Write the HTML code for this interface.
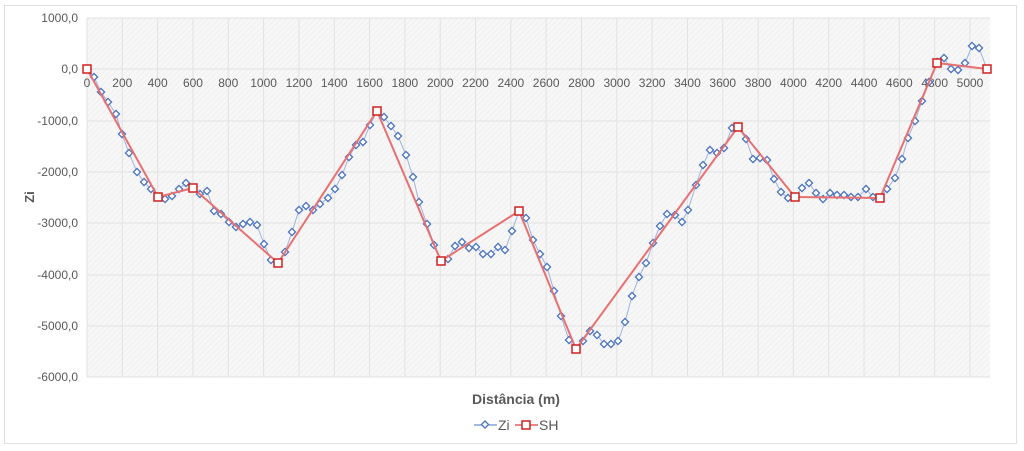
<!DOCTYPE html>
<html><head><meta charset="utf-8"><style>
html,body{margin:0;padding:0;background:#fff;}
svg{display:block;font-family:"Liberation Sans",sans-serif;}
</style></head><body>
<svg width="1024" height="451" viewBox="0 0 1024 451">
<defs>
<pattern id="h" width="4" height="4" patternUnits="userSpaceOnUse" patternTransform="rotate(45)">
<rect width="4" height="4" fill="#f7f7f7"/><line x1="0" y1="0" x2="0" y2="4" stroke="#ececec" stroke-width="1.2"/>
</pattern>
</defs>
<rect x="4.5" y="5.5" width="1012" height="438" fill="#fff" stroke="#e0e0e0"/>
<rect x="87" y="18" width="903" height="359" fill="url(#h)"/>
<g stroke="#e2e2e2" stroke-width="1">
<line x1="87" y1="18" x2="990" y2="18"/><line x1="87" y1="69" x2="990" y2="69"/><line x1="87" y1="121" x2="990" y2="121"/><line x1="87" y1="172" x2="990" y2="172"/><line x1="87" y1="223" x2="990" y2="223"/><line x1="87" y1="275" x2="990" y2="275"/><line x1="87" y1="326" x2="990" y2="326"/><line x1="87" y1="377" x2="990" y2="377"/>
</g>
<g id="vg" stroke="#e2e2e2"></g>
<g font-size="12" fill="#595959" text-anchor="end">
<text x="78" y="22">1000,0</text><text x="78" y="73">0,0</text><text x="78" y="125">-1000,0</text><text x="78" y="176">-2000,0</text><text x="78" y="227">-3000,0</text><text x="78" y="279">-4000,0</text><text x="78" y="330">-5000,0</text><text x="78" y="381">-6000,0</text>
</g>
<g id="xl" font-size="12" fill="#595959" text-anchor="middle"></g>
<text transform="translate(34,197) rotate(-90)" font-size="13" font-weight="bold" fill="#595959" text-anchor="middle">Zi</text>
<text x="516" y="404" font-size="14" font-weight="bold" fill="#595959" text-anchor="middle">Distância (m)</text>
<g>
<line x1="474" y1="425" x2="497" y2="425" stroke="#4a73c0" stroke-width="1"/>
<rect x="482.5" y="422" width="5" height="5" transform="rotate(45 485 424.5)" fill="#fff" stroke="#4a73c0" stroke-width="1.3"/>
<text x="498" y="430" font-size="14" fill="#595959">Zi</text>
<line x1="515" y1="425" x2="538" y2="425" stroke="#e06060" stroke-width="1.5"/>
<rect x="522" y="421" width="8" height="8" fill="#fff" stroke="#d02020" stroke-width="1.5"/>
<text x="539" y="430" font-size="14" fill="#595959">SH</text>
</g>
<g id="zi"></g>
<g id="sh"></g>
</svg>
<script>
var ns="http://www.w3.org/2000/svg";
function el(t,a,p){var e=document.createElementNS(ns,t);for(var k in a)e.setAttribute(k,a[k]);p.appendChild(e);return e;}
var vg=document.getElementById('vg'),xl=document.getElementById('xl');
for(var i=0;i<=25;i++){var x=87+i*35.32;el('line',{x1:x,y1:18,x2:x,y2:377},vg);var t=el('text',{x:x,y:87},xl);t.textContent=(i*200)+'';}
var zi=[[87,69],[94,77],[101,92],[108,102],[116,114],[122,134],[129,153],[137,172],[144,182],[151,189],[158,197],[165,199],[172,196],[179,189],[186,183],[193,188],[200,194],[207,191],[214,211],[221,214],[229,222],[236,227],[243,224],[250,222],[257,225],[264,244],[271,260],[278,263],[285,252],[292,232],[299,210],[306,206],[313,210],[320,204],[328,198],[335,189],[342,175],[349,157],[356,145],[363,142],[370,125],[377,111],[384,117],[391,126],[398,136],[406,155],[413,177],[419,202],[427,224],[434,245],[441,261],[448,259],[455,246],[462,242],[469,248],[476,247],[483,254],[491,254],[498,247],[505,250],[512,231],[519,211],[526,218],[533,240],[540,254],[547,267],[554,291],[561,316],[569,340],[576,349],[583,341],[590,331],[597,335],[604,344],[611,344],[618,341],[625,322],[632,296],[639,277],[646,263],[653,243],[660,226],[667,214],[675,215],[682,222],[688,210],[696,185],[703,165],[710,150],[717,153],[724,148],[732,128],[738,127],[746,139],[753,159],[760,158],[767,160],[774,179],[781,192],[788,198],[795,197],[802,188],[809,183],[816,193],[823,199],[830,193],[837,195],[844,195],[851,197],[858,197],[866,189],[873,197],[880,198],[887,189],[895,178],[902,159],[908,138],[915,121],[922,101],[929,82],[937,62],[944,58],[951,69],[958,70],[965,63],[972,46],[979,48],[987,69]];
var sh=[[87,69],[158,197],[193,188],[278,263],[377,111],[441,261],[519,211],[576,349],[738,127],[795,197],[880,198],[937,63],[987,69]];
var g1=document.getElementById('zi'),g2=document.getElementById('sh');
el('polyline',{points:zi.map(p=>p.join(',')).join(' '),fill:'none',stroke:'#9db3dc','stroke-width':1},g1);
el('polyline',{points:sh.map(p=>p.join(',')).join(' '),fill:'none',stroke:'#e87070','stroke-width':2},g2);
zi.forEach(function(p){el('rect',{x:p[0]-2.5,y:p[1]-2.5,width:5,height:5,transform:'rotate(45 '+p[0]+' '+p[1]+')',fill:'#fff',stroke:'#4a73c0','stroke-width':1.3},g1);});
sh.forEach(function(p){el('rect',{x:p[0]-4,y:p[1]-4,width:8,height:8,fill:'#fff',stroke:'#d02020','stroke-width':1.5},g2);});
</script>
</body></html>
